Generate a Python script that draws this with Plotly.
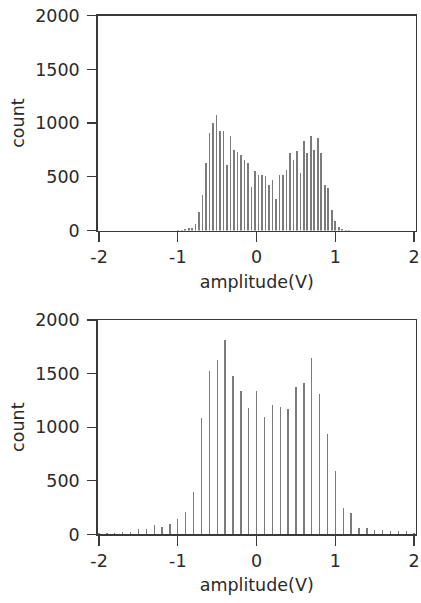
import plotly.graph_objects as go

# ---- data ----
top_start = -0.995          # centre of first top-histogram bin (V)
top_step = 0.0443           # top-histogram bin width (V)
top_counts = [8, 8, 10, 20, 22, 62, 171, 327, 625, 905, 1003, 1078, 924, 924,
              613, 877, 753, 735, 703, 659, 625, 407, 550, 519, 519, 504, 426,
              473, 295, 519, 519, 566, 722, 659, 737, 535, 830, 722, 877, 753,
              862, 722, 426, 395, 193, 93, 31, 16, 5, 5]
top_centers = [round(top_start + top_step * i, 4) for i in range(len(top_counts))]

bottom_centers = [-2.0, -1.9, -1.8, -1.7, -1.6, -1.5, -1.4, -1.3, -1.2, -1.1,
                  -1.0, -0.9, -0.8, -0.7, -0.6, -0.5, -0.4, -0.3, -0.2, -0.1,
                  0.0, 0.1, 0.2, 0.3, 0.4, 0.5, 0.6, 0.7, 0.8, 0.9,
                  1.0, 1.1, 1.2, 1.3, 1.4, 1.5, 1.6, 1.7, 1.8, 1.9, 2.0]
bottom_counts = [10, 10, 12, 25, 25, 52, 52, 84, 68, 99,
                 147, 208, 398, 1088, 1527, 1623, 1809, 1480, 1340, 1181,
                 1340, 1091, 1203, 1184, 1172, 1374, 1408, 1641, 1312, 936,
                 587, 246, 199, 56, 56, 41, 41, 28, 28, 28, 16]

x_ticks = [-2, -1, 0, 1, 2]
x_tick_text = ["-2", "-1", "0", "1", "2"]
y_ticks = [0, 500, 1000, 1500, 2000]
y_tick_text = ["0", "500", "1000", "1500", "2000"]
x_title = "amplitude(V)"
y_title = "count"

W, H = 421, 603
FONT = dict(family="DejaVu Sans", size=17.5, color="#2a2a2a")
AX = "#3a3a3a"
BAR = "#7b7b7b"

fig = go.Figure()
fig.add_trace(go.Bar(x=top_centers, y=top_counts, width=0.021,
                     marker=dict(color=BAR, line=dict(width=0)),
                     xaxis="x", yaxis="y", showlegend=False))
fig.add_trace(go.Bar(x=bottom_centers, y=bottom_counts, width=0.017,
                     marker=dict(color=BAR, line=dict(width=0)),
                     xaxis="x2", yaxis="y2", showlegend=False))

xdom = [97.7 / W, 415.7 / W]
top_dom = [1 - 230.5 / H, 1 - 15.7 / H]
bot_dom = [1 - 534.4 / H, 1 - 320.0 / H]

def xaxis(anchor):
    return dict(domain=xdom, anchor=anchor, range=[-2.017, 2.02],
                tickmode="array", tickvals=x_ticks, ticktext=x_tick_text,
                ticks="outside", ticklen=10, tickwidth=1.3, tickcolor=AX,
                showline=True, linecolor=AX, linewidth=1.5, mirror=True,
                showgrid=False, zeroline=False, tickfont=FONT,
                ticklabelstandoff=0,
                title=dict(text=x_title, font=FONT, standoff=9),
                automargin=False, fixedrange=True)

def yaxis(anchor, dom):
    return dict(domain=dom, anchor=anchor, range=[0, 2000],
                tickmode="array", tickvals=y_ticks, ticktext=y_tick_text,
                ticks="outside", ticklen=9, tickwidth=1.3, tickcolor=AX,
                showline=True, linecolor=AX, linewidth=1.5, mirror=True,
                showgrid=False, zeroline=False, tickfont=FONT,
                ticklabelstandoff=4,
                title=dict(text=y_title, font=FONT, standoff=6),
                automargin=False, fixedrange=True)

fig.update_layout(
    width=W, height=H,
    margin=dict(l=0, r=0, t=0, b=0),
    paper_bgcolor="white", plot_bgcolor="white",
    bargap=0, barmode="overlay",
    xaxis=xaxis("y"), yaxis=yaxis("x", top_dom),
    xaxis2=xaxis("y2"), yaxis2=yaxis("x2", bot_dom),
    font=FONT,
)

fig.write_html("out.html",
               config={"displayModeBar": False, "staticPlot": True},
               post_script="document.body.style.margin='0px';"
                           "document.body.style.overflow='hidden';")
